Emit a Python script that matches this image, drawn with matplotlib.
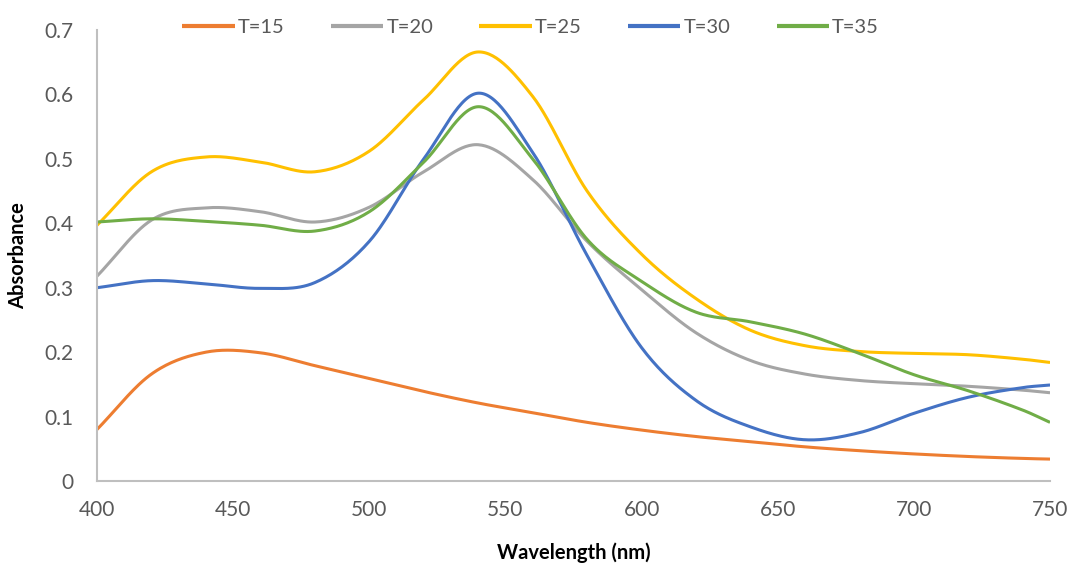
import numpy as np
import matplotlib
matplotlib.use("Agg")
import matplotlib.pyplot as plt

wavelength = [400, 420, 440, 460, 480, 500, 520, 540, 560, 580, 600, 620, 640, 660, 680, 700, 720, 740, 750]

t15 = [0.080, 0.166, 0.200, 0.199, 0.179, 0.159, 0.139, 0.121, 0.106, 0.091, 0.079, 0.069, 0.061, 0.053, 0.047, 0.042, 0.038, 0.035, 0.034]
t20 = [0.318, 0.405, 0.424, 0.418, 0.402, 0.425, 0.480, 0.522, 0.468, 0.372, 0.297, 0.230, 0.187, 0.166, 0.156, 0.151, 0.147, 0.141, 0.137]
t25 = [0.397, 0.480, 0.503, 0.495, 0.480, 0.512, 0.592, 0.666, 0.597, 0.450, 0.352, 0.283, 0.234, 0.210, 0.201, 0.198, 0.196, 0.189, 0.184]
t30 = [0.300, 0.311, 0.306, 0.299, 0.308, 0.372, 0.500, 0.602, 0.510, 0.350, 0.207, 0.125, 0.084, 0.064, 0.075, 0.105, 0.130, 0.145, 0.149]
t35 = [0.402, 0.407, 0.403, 0.397, 0.388, 0.418, 0.495, 0.581, 0.500, 0.375, 0.310, 0.262, 0.247, 0.228, 0.198, 0.165, 0.140, 0.110, 0.091]

labels = ["T=15", "T=20", "T=25", "T=30", "T=35"]
colors = ["#ED7D31", "#A5A5A5", "#FFC000", "#4472C4", "#70AD47"]

x_ticks = [400, 450, 500, 550, 600, 650, 700, 750]
y_ticks = [0, 0.1, 0.2, 0.3, 0.4, 0.5, 0.6, 0.7]


def smooth(x, y, n=30):
    """Catmull-Rom style cubic Hermite smoothing (like Excel's smoothed line)."""
    x = np.asarray(x, float)
    y = np.asarray(y, float)
    m = np.zeros_like(y)
    m[1:-1] = (y[2:] - y[:-2]) / (x[2:] - x[:-2])
    m[0] = (y[1] - y[0]) / (x[1] - x[0])
    m[-1] = (y[-1] - y[-2]) / (x[-1] - x[-2])
    xs, ys = [], []
    for i in range(len(x) - 1):
        h = x[i + 1] - x[i]
        t = np.linspace(0, 1, n, endpoint=False)
        h00 = 2 * t**3 - 3 * t**2 + 1
        h10 = t**3 - 2 * t**2 + t
        h01 = -2 * t**3 + 3 * t**2
        h11 = t**3 - t**2
        xs.append(x[i] + t * h)
        ys.append(h00 * y[i] + h10 * h * m[i] + h01 * y[i + 1] + h11 * h * m[i + 1])
    xs.append([x[-1]])
    ys.append([y[-1]])
    return np.concatenate(xs), np.concatenate(ys)


plt.rcParams['font.family'] = ['Lato', 'DejaVu Sans']

fig = plt.figure(figsize=(10.72, 5.67), dpi=100)
ax = fig.add_axes([0.0905, 0.1517, 0.889, 0.7953])

for ys, lab, c in zip([t15, t20, t25, t30, t35], labels, colors):
    sx, sy = smooth(wavelength, ys)
    ax.plot(sx, sy, color=c, lw=2.2, label=lab, solid_capstyle='butt')

ax.set_xlim(400, 750)
ax.set_ylim(0, 0.7)
ax.set_xticks(x_ticks)
ax.set_yticks(y_ticks)
ax.set_xticklabels([str(v) for v in x_ticks])
ax.set_yticklabels(["0" if v == 0 else f"{v:.1f}" for v in y_ticks])
ax.tick_params(axis='both', length=0, labelsize=15, labelcolor='#595959')
ax.tick_params(axis='x', pad=14)
ax.tick_params(axis='y', pad=17)

for s in ['top', 'right']:
    ax.spines[s].set_visible(False)
for s in ['left', 'bottom']:
    ax.spines[s].set_color('#BFBFBF')
    ax.spines[s].set_linewidth(1.5)

ax.set_xlabel("Wavelength (nm)", fontsize=14.5, fontweight='bold', labelpad=16)
ax.set_ylabel("Absorbance", fontsize=14.5, fontweight='bold', labelpad=12)

leg = fig.legend(loc='center', bbox_to_anchor=(0.495, 0.951), ncol=5, frameon=False,
                 fontsize=14.5, handlelength=2.6, handletextpad=0.15, columnspacing=2.3)
for t in leg.get_texts():
    t.set_color('#595959')
for l in leg.get_lines():
    l.set_linewidth(3)

fig.savefig("out.png", dpi=100)
